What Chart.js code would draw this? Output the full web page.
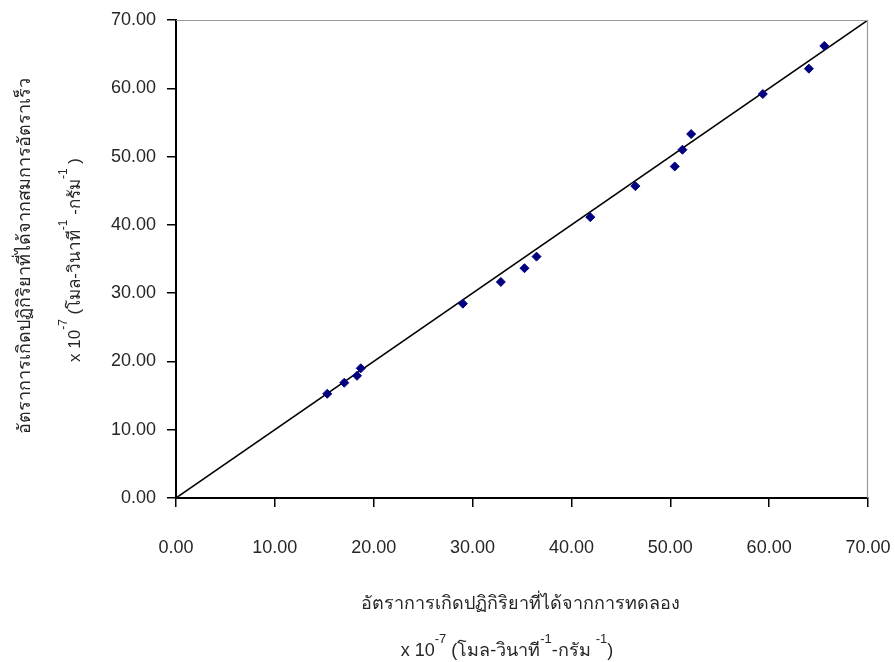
<!DOCTYPE html>
<html>
<head>
<meta charset="utf-8">
<script src="https://cdn.jsdelivr.net/npm/chart.js@4/dist/chart.umd.min.js"></script>
<style>
  html, body { margin: 0; padding: 0; background: #fff; }
  #wrap { width: 895px; height: 662px; position: relative; }
</style>
</head>
<body>
<div id="wrap"><canvas id="c" width="895" height="662"></canvas></div>
<script>
// Reaction rate from experiment (x) vs. reaction rate from rate equation (y), ×10^-7
const experimentalRate = [15.30, 17.02, 18.31, 18.69, 29.02, 32.86, 35.25, 36.47, 41.91, 46.47, 50.45, 51.23, 52.11, 59.36, 64.02, 65.58];
const calculatedRate   = [15.26, 16.88, 17.90, 18.99, 28.46, 31.64, 33.65, 35.35, 41.13, 45.67, 48.55, 51.00, 53.30, 59.16, 62.87, 66.20];
// y = x reference line endpoints
const parityLineX = [0, 70];
const parityLineY = [0, 70];
const axisMin = 0, axisMax = 70, axisStep = 10;

const xTitle1 = 'อัตราการเกิดปฏิกิริยาที่ได้จากการทดลอง';
const yTitle1 = 'อัตราการเกิดปฏิกิริยาที่ได้จากสมการอัตราเร็ว';
const xTitle2 = [{t:'x 10'}, {t:'-7', s:true}, {t:' (โมล-วินาที'}, {t:'-1', s:true}, {t:'-กรัม '}, {t:'-1', s:true}, {t:')'}];
const yTitle2 = [{t:'x 10'}, {t:'-7', s:true}, {t:' (โมล-วินาที'}, {t:'-1', s:true}, {t:' -กรัม'}, {t:'-1', s:true}, {t:' )'}];

const FONT = '"Liberation Sans", Arial, "DejaVu Sans", sans-serif';
const TEXT = '#262626';

function drawRich(ctx, segs, cx, cy, size, supSize, rise) {
  const fMain = size + 'px ' + FONT, fSup = supSize + 'px ' + FONT;
  let total = 0;
  segs.forEach(sg => { ctx.font = sg.s ? fSup : fMain; sg.w = ctx.measureText(sg.t).width; total += sg.w; });
  let x = cx - total / 2;
  ctx.textAlign = 'left';
  ctx.textBaseline = 'alphabetic';
  segs.forEach(sg => {
    ctx.font = sg.s ? fSup : fMain;
    ctx.fillText(sg.t, x, sg.s ? cy - rise : cy);
    x += sg.w;
  });
}

const titlesPlugin = {
  id: 'axisTitles',
  afterDraw(chart) {
    const ctx = chart.ctx;
    const a = chart.chartArea;
    ctx.save();
    // light frame on top and right of the plot area
    ctx.strokeStyle = '#9a9a9a';
    ctx.lineWidth = 1.2;
    ctx.beginPath();
    ctx.moveTo(a.left, a.top + 0.5);
    ctx.lineTo(a.right - 0.5, a.top + 0.5);
    ctx.lineTo(a.right - 0.5, a.bottom);
    ctx.stroke();

    ctx.fillStyle = TEXT;
    // x-axis title
    drawRich(ctx, [{t: xTitle1}], 520, 609, 18, 13, 0);
    drawRich(ctx, xTitle2, 507, 656, 18, 13, 13);
    // y-axis title (rotated)
    ctx.translate(30, 256);
    ctx.rotate(-Math.PI / 2);
    drawRich(ctx, [{t: yTitle1}], 0, 0, 18, 13, 0);
    ctx.restore();
    ctx.save();
    ctx.fillStyle = TEXT;
    ctx.translate(80, 260);
    ctx.rotate(-Math.PI / 2);
    drawRich(ctx, yTitle2, 0, 0, 17, 12, 13);
    ctx.restore();
  }
};

const tickFmt = v => Number(v).toFixed(2);

new Chart(document.getElementById('c'), {
  type: 'scatter',
  data: {
    datasets: [
      {
        label: 'rate',
        data: experimentalRate.map((x, i) => ({x: x, y: calculatedRate[i]})),
        pointStyle: 'rectRot',
        pointRadius: 4.5,
        pointBackgroundColor: '#000080',
        pointBorderColor: '#000080',
        pointBorderWidth: 1,
        order: 1
      },
      {
        type: 'line',
        label: 'y = x',
        data: parityLineX.map((x, i) => ({x: x, y: parityLineY[i]})),
        borderColor: '#000',
        borderWidth: 1.5,
        pointRadius: 0,
        fill: false,
        order: 2
      }
    ]
  },
  options: {
    responsive: false,
    animation: false,
    layout: { padding: { top: 20, right: 27, left: 0, bottom: 0 } },
    plugins: { legend: { display: false }, tooltip: { enabled: false } },
    scales: {
      x: {
        type: 'linear',
        min: axisMin, max: axisMax,
        ticks: { stepSize: axisStep, callback: tickFmt, color: TEXT, font: { family: FONT, size: 18 }, padding: 30, maxRotation: 0 },
        grid: { drawOnChartArea: false, drawTicks: true, tickLength: 9, color: '#000', lineWidth: 1.5 },
        border: { display: true, color: '#000', width: 2 },
        afterFit(s) { s.height = 164; s.paddingLeft = 0; s.paddingRight = 0; }
      },
      y: {
        type: 'linear',
        min: axisMin, max: axisMax,
        ticks: { stepSize: axisStep, callback: tickFmt, color: TEXT, font: { family: FONT, size: 18 }, padding: 11 },
        grid: { drawOnChartArea: false, drawTicks: true, tickLength: 9, color: '#000', lineWidth: 1.5 },
        border: { display: true, color: '#000', width: 2 },
        afterFit(s) { s.width = 176; s.paddingTop = 0; s.paddingBottom = 0; }
      }
    }
  },
  plugins: [titlesPlugin]
});
</script>
</body>
</html>
